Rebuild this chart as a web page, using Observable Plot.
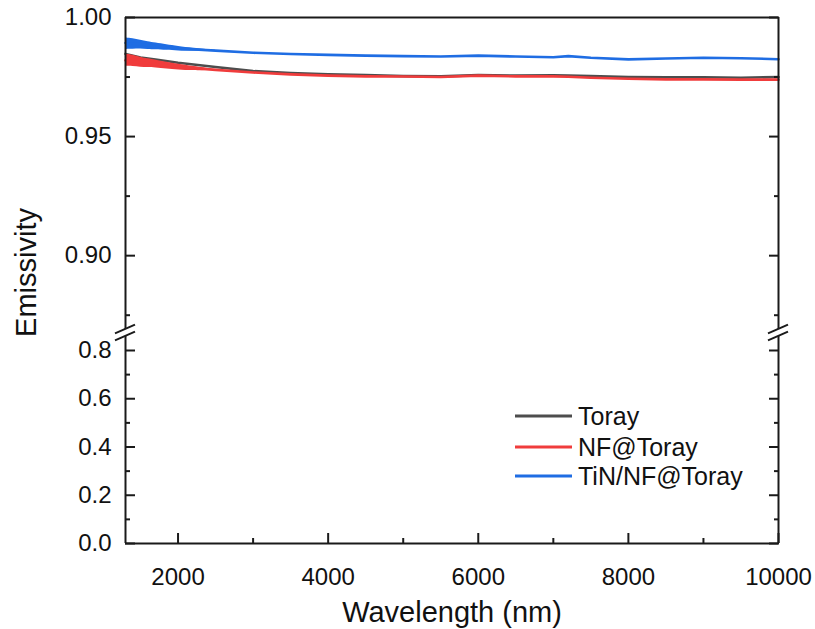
<!DOCTYPE html>
<html>
<head>
<meta charset="utf-8">
<script src="https://cdn.jsdelivr.net/npm/d3@7"></script>
<script src="https://cdn.jsdelivr.net/npm/@observablehq/plot@0.6"></script>
<style>
  body { margin: 0; background: #fff; }
  #wrap { position: relative; width: 815px; height: 629px; font-family: "Liberation Sans", Arial, sans-serif; color: #111; }
  .row { position: absolute; left: 515px; height: 30px; display: flex; align-items: center; font-size: 25px; white-space: nowrap; }
  .row svg { margin-right: 6px; }
</style>
</head>
<body>
<div id="wrap"></div>
<script>
// ---- data ----
const wavelength = [1300, 1500, 1700, 2000, 2500, 3000, 3500, 4000, 4500, 5000, 5500, 6000, 6500, 7000, 7200, 7500, 8000, 8500, 9000, 9500, 10000];
const toray      = [0.9847, 0.9832, 0.9824, 0.9810, 0.9792, 0.9775, 0.9767, 0.9761, 0.9758, 0.9754, 0.9753, 0.9758, 0.9756, 0.9757, 0.9756, 0.9754, 0.9750, 0.9749, 0.9749, 0.9747, 0.9750];
const nfToray    = [0.9820, 0.9811, 0.9805, 0.9792, 0.9780, 0.9769, 0.9761, 0.9756, 0.9753, 0.9752, 0.9750, 0.9756, 0.9753, 0.9753, 0.9751, 0.9747, 0.9743, 0.9740, 0.9740, 0.9739, 0.9739];
const tinNfToray = [0.9893, 0.9888, 0.9879, 0.9870, 0.9861, 0.9852, 0.9847, 0.9843, 0.9840, 0.9838, 0.9836, 0.9840, 0.9836, 0.9833, 0.9838, 0.9831, 0.9824, 0.9828, 0.9831, 0.9829, 0.9825];

// noisy band at short wavelengths (upper / lower envelope)
const bandW     = [1300, 1400, 1500, 1600, 1700, 1850, 2000, 2200, 2500];
const nfBandHi  = [0.9846, 0.9842, 0.9833, 0.9826, 0.9821, 0.9812, 0.9804, 0.9795, 0.9782];
const nfBandLo  = [0.9795, 0.9795, 0.9791, 0.9790, 0.9788, 0.9784, 0.9780, 0.9776, 0.9778];
const tinBandHi = [0.9915, 0.9911, 0.9905, 0.9898, 0.9893, 0.9885, 0.9879, 0.9871, 0.9862];
const tinBandLo = [0.9866, 0.9866, 0.9869, 0.9865, 0.9865, 0.9862, 0.9860, 0.9857, 0.9860];

const seriesNames  = ["Toray", "NF@Toray", "TiN/NF@Toray"];
const seriesColors = ["#4d4d4d", "#f03c3c", "#1f6de3"];

const xMajor = [2000, 4000, 6000, 8000, 10000];
const xMinor = [3000, 5000, 7000, 9000];
const yMajor = [0, 0.2, 0.4, 0.6, 0.8, 0.90, 0.95, 1.00];
const yMinor = [0.1, 0.3, 0.5, 0.7, 0.875, 0.925, 0.975];
const xDomain = [1300, 10000];
const yBreak = [0.858, 0.869];   // axis break between lower and upper segment

// ---- build tables ----
const lineRows = [];
[toray, nfToray, tinNfToray].forEach((vals, s) =>
  wavelength.forEach((w, i) => lineRows.push({w, v: vals[i], s: seriesNames[s]})));
const bandRows = [];
bandW.forEach((w, i) => bandRows.push({w, lo: nfBandLo[i], hi: nfBandHi[i], s: "NF@Toray"}));
bandW.forEach((w, i) => bandRows.push({w, lo: tinBandLo[i], hi: tinBandHi[i], s: "TiN/NF@Toray"}));

const W = 815, H = 629, mL = 125, mR = 37, mT = 17, mB = 86;
const yBottom = H - mB;
const fmtY = d => d > yBreak[1] ? d.toFixed(2) : d.toFixed(1);
const frameColor = "#1a1a1a";

function breakMarks(index, scales) {
  const g = d3.create("svg:g").attr("stroke", frameColor).attr("stroke-width", 2);
  const yU = scales.y(yBreak[1]), yL = scales.y(yBreak[0]);
  for (const xv of xDomain) {
    const px = scales.x(xv);
    for (const yy of [yU, yL]) {
      g.append("line").attr("x1", px - 10).attr("y1", yy + 4.3).attr("x2", px + 10).attr("y2", yy - 4.3);
    }
  }
  return g.node();
}

const lineOf = name => lineRows.filter(d => d.s === name);
const bandOf = name => bandRows.filter(d => d.s === name);

const plot = Plot.plot({
  width: W, height: H,
  marginLeft: mL, marginRight: mR, marginTop: mT, marginBottom: mB,
  style: {fontFamily: "Liberation Sans, Arial, sans-serif", background: "#fff", color: "#111", overflow: "visible"},
  x: {domain: xDomain},
  y: {type: "linear", domain: [0, yBreak[0], yBreak[1], 1.0], range: [yBottom, 336, 329, mT]},
  marks: [
    // data
    Plot.line(lineOf("Toray"), {x: "w", y: "v", stroke: seriesColors[0], strokeWidth: 2.6}),
    Plot.areaY(bandOf("NF@Toray"), {x: "w", y1: "lo", y2: "hi", fill: seriesColors[1], curve: "basis"}),
    Plot.line(lineOf("NF@Toray"), {x: "w", y: "v", stroke: seriesColors[1], strokeWidth: 2.6}),
    Plot.areaY(bandOf("TiN/NF@Toray"), {x: "w", y1: "lo", y2: "hi", fill: seriesColors[2], curve: "basis"}),
    Plot.line(lineOf("TiN/NF@Toray"), {x: "w", y: "v", stroke: seriesColors[2], strokeWidth: 2.6}),
    // frame (broken on left and right)
    Plot.ruleX([xDomain[0], xDomain[1]], {y1: 0, y2: yBreak[0], stroke: frameColor, strokeWidth: 2}),
    Plot.ruleX([xDomain[0], xDomain[1]], {y1: yBreak[1], y2: 1.0, stroke: frameColor, strokeWidth: 2}),
    Plot.ruleY([0, 1.0], {stroke: frameColor, strokeWidth: 2}),
    breakMarks,
    // axes
    Plot.axisY({anchor: "left", ticks: yMajor, tickSize: -10, tickPadding: 24, tickFormat: fmtY, fontSize: 24, label: null, strokeWidth: 2, stroke: frameColor}),
    Plot.axisY({anchor: "left", ticks: yMinor, tickSize: -5, tickFormat: () => "", label: null, strokeWidth: 2, stroke: frameColor}),
    Plot.axisY({anchor: "right", ticks: yMajor, tickSize: -10, tickFormat: () => "", label: null, strokeWidth: 2, stroke: frameColor}),
    Plot.axisY({anchor: "right", ticks: yMinor, tickSize: -5, tickFormat: () => "", label: null, strokeWidth: 2, stroke: frameColor}),
    Plot.axisX({anchor: "bottom", ticks: xMajor, tickSize: -10, tickPadding: 34, tickFormat: d => String(d), fontSize: 24, label: null, strokeWidth: 2, stroke: frameColor}),
    Plot.axisX({anchor: "bottom", ticks: xMinor, tickSize: -5, tickFormat: () => "", label: null, strokeWidth: 2, stroke: frameColor}),
    // axis titles
    Plot.text(["Emissivity"], {frameAnchor: "left", rotate: -90, dx: -99, dy: -8, fontSize: 29, textAnchor: "middle", lineAnchor: "middle", fill: "#111"}),
    Plot.text(["Wavelength (nm)"], {frameAnchor: "bottom", dy: 69, fontSize: 29, textAnchor: "middle", lineAnchor: "middle", fill: "#111"})
  ]
});

const wrap = document.getElementById("wrap");
wrap.appendChild(plot);

// legend
const centers = [416, 447, 476];
seriesNames.forEach((name, i) => {
  const row = document.createElement("div");
  row.className = "row";
  row.style.top = (centers[i] - 15) + "px";
  row.innerHTML = `<svg width="57" height="6"><line x1="0" x2="57" y1="3" y2="3" stroke="${seriesColors[i]}" stroke-width="3"/></svg><span>${name}</span>`;
  wrap.appendChild(row);
});
</script>
</body>
</html>
